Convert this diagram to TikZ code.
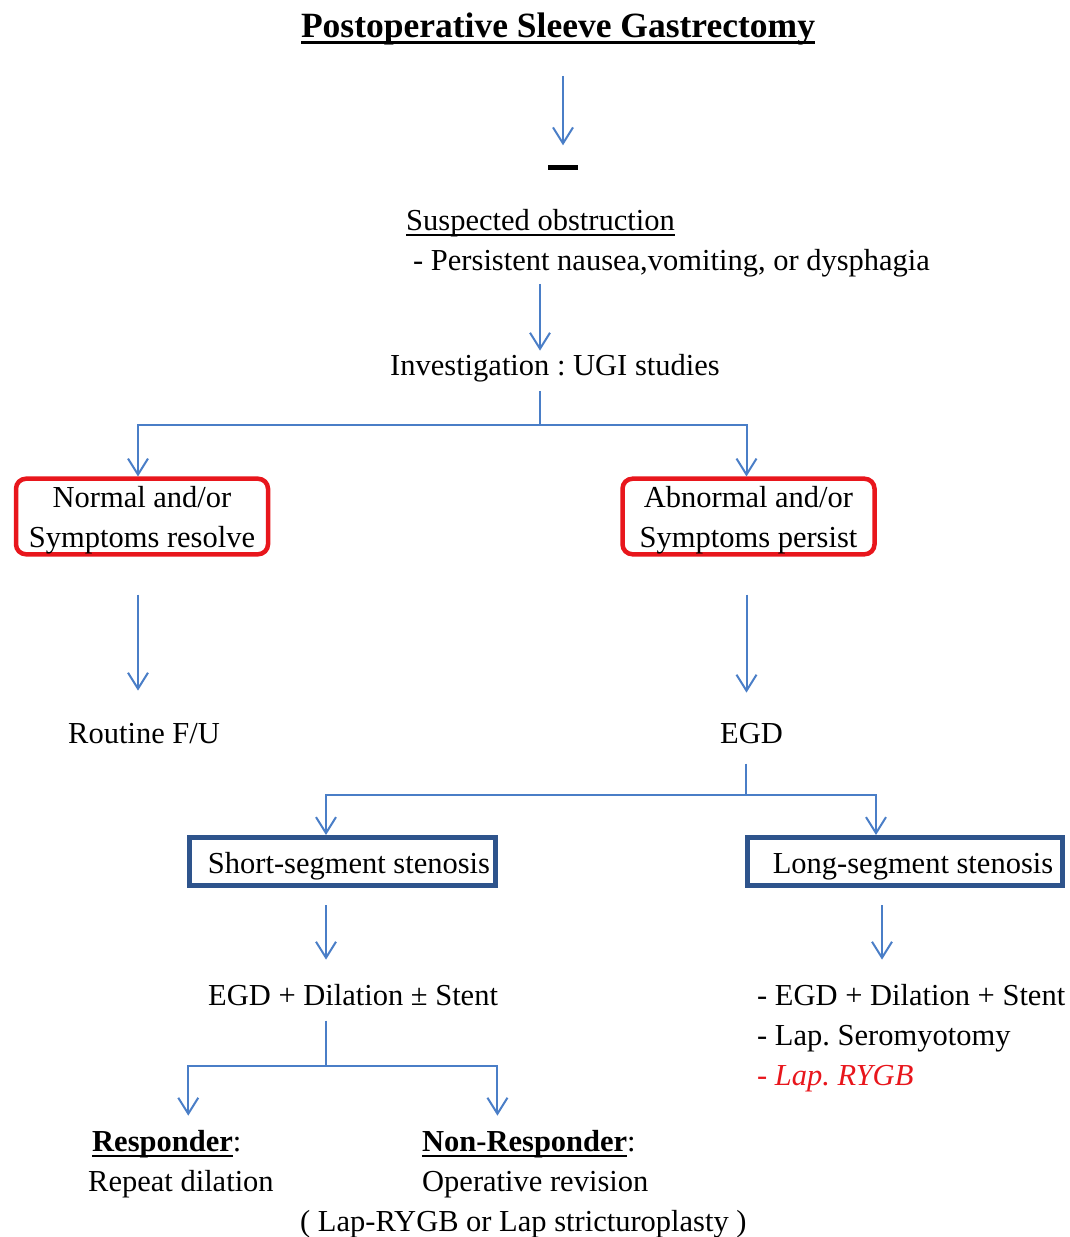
\documentclass[tikz,border=0pt]{standalone}
\usepackage{fontspec}
\setmainfont{Liberation Serif}
\usetikzlibrary{arrows.meta}
\definecolor{lineblue}{RGB}{74,126,199}
\definecolor{boxblue}{RGB}{46,84,140}
\definecolor{boxred}{RGB}{232,22,28}
\frenchspacing
\newsavebox{\ulbox}
\newcommand{\undl}[2][1.5pt]{\sbox\ulbox{#2}\rlap{\rule[\dimexpr-4pt-#1\relax]{\wd\ulbox}{#1}}\usebox\ulbox}
\begin{document}
\begin{tikzpicture}[x=1pt,y=-1pt,
	txt/.style={inner sep=0pt,font=\fontsize{30.5}{40}\selectfont},
	conn/.style={lineblue,line width=2pt,-{Straight Barb[length=16pt,width=20pt]}},
	redbox/.style={txt,draw=boxred,line width=4.5pt,rounded corners=10pt,minimum width=252pt,minimum height=73pt,align=center},
	bluebox/.style={txt,draw=boxblue,line width=5pt,minimum width=306pt,minimum height=48pt}]
		\useasboundingbox (0,0) rectangle (1069,1237);
		\node[txt,anchor=base,font=\fontsize{35.5}{40}\selectfont\bfseries] (title) at (558,37) {\undl[3pt]{Postoperative Sleeve Gastrectomy}};
		\node[fill=black,minimum width=30pt,minimum height=5pt,inner sep=0pt] (bar) at (563,167) {};
		\node[txt,anchor=base west] (suspect) at (406,230) {\undl{Suspected obstruction}};
		\node[txt,anchor=base west] (persist) at (413,270) {- Persistent nausea,vomiting, or dysphagia};
		\node[txt,anchor=base west] (invest) at (390,375) {Investigation : UGI studies};
		\node[redbox] (normal) at (142,516.5) {\rule{0pt}{29pt}Normal and/or\\Symptoms resolve};
		\node[redbox] (abnormal) at (748.5,516.5) {\rule{0pt}{29pt}Abnormal and/or\\Symptoms persist};
		\node[txt,anchor=base west] (routine) at (68,743) {Routine F/U};
		\node[txt,anchor=base west] (egd) at (720,743) {EGD};
		\node[bluebox] (short) at (342.5,861.5) {\hspace*{13pt}\rule{0pt}{31pt}Short-segment stenosis};
		\node[bluebox,minimum width=315pt] (long) at (905,861.5) {\hspace*{16pt}\rule{0pt}{31pt}Long-segment stenosis};
		\node[txt,anchor=base west] (dilate) at (208,1005) {EGD + Dilation ± Stent};
		\node[txt,anchor=base west] (opt1) at (757,1005) {- EGD + Dilation + Stent};
		\node[txt,anchor=base west] (opt2) at (757,1045) {- Lap. Seromyotomy};
		\node[txt,anchor=base west,text=boxred,font=\fontsize{30.5}{40}\selectfont\itshape] (opt3) at (757,1085) {- Lap. RYGB};
		\node[txt,anchor=base west] (resp) at (92,1151) {\textbf{\undl{Responder}}:};
		\node[txt,anchor=base west] (repeat) at (88,1191) {Repeat dilation};
		\node[txt,anchor=base west] (nonresp) at (422,1151) {\textbf{\undl{Non-Responder}}:};
		\node[txt,anchor=base west] (revise) at (422,1191) {Operative revision};
		\node[txt,anchor=base west] (lapopt) at (300,1231) {( Lap-RYGB or Lap stricturoplasty )};
		\coordinate (j1) at (540,425);
		\coordinate (j2) at (746,795);
		\coordinate (j3) at (326,1066);
		\draw[conn,shorten <=31pt,shorten >=19pt] (title.south -| bar) -- (bar.north);
		\draw[conn,shorten <=7pt,shorten >=3pt] (persist.south -| j1) -- (invest.north -| j1);
		\draw[conn,shorten <=9pt] (invest.south -| j1) -- (j1) -| ([xshift=-4pt]normal.north);
		\draw[conn] (j1) -| ([xshift=-2pt]abnormal.north);
		\draw[conn,shorten <=38pt,shorten >=32pt] ([xshift=-4pt]normal.south) -- ([xshift=-4pt]normal.south |- routine.north);
		\draw[conn,shorten <=38pt,shorten >=30pt] ([xshift=-2pt]abnormal.south) -- ([xshift=-2pt]abnormal.south |- egd.north);
		\draw[conn,shorten <=20pt] (egd.south -| j2) -- (j2) -| (short.north -| j3);
		\draw[conn] (j2) -| ([xshift=-29pt]long.north);
		\draw[conn,shorten <=17pt,shorten >=24pt] (short.south -| j3) -- (dilate.north -| j3);
		\draw[conn,shorten <=17pt,shorten >=24pt] ([xshift=-23pt]long.south) -- ([xshift=-23pt]long.south |- opt1.north);
		\draw[conn,shorten <=15pt,shorten >=14pt] (dilate.south -| j3) -- (j3) -| ([xshift=21.5pt]resp.north);
		\draw[conn,shorten >=14pt] (j3) -| ([xshift=-31.5pt]nonresp.north);
	\end{tikzpicture}
\end{document}
